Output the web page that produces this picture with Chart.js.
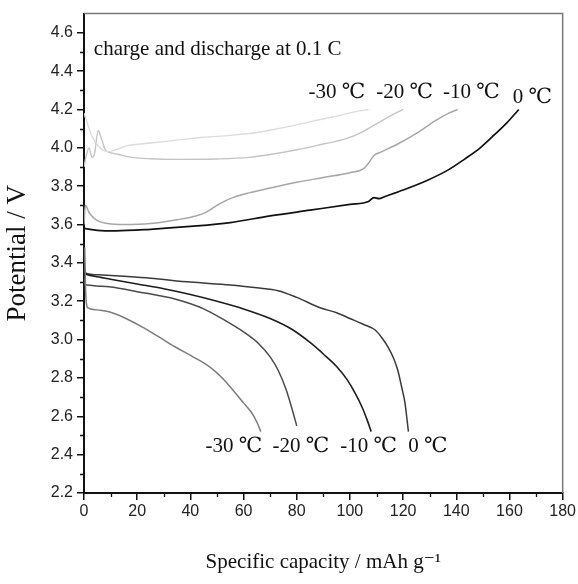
<!DOCTYPE html>
<html>
<head>
<meta charset="utf-8">
<script src="https://cdn.jsdelivr.net/npm/chart.js@4.4.1/dist/chart.umd.min.js"></script>
<style>
  html, body { margin: 0; padding: 0; background: #fff; }
</style>
</head>
<body>
<canvas id="chart" width="578" height="584"></canvas>
<script>
/* ---- data ---- */
const xTicks = [0, 20, 40, 60, 80, 100, 120, 140, 160, 180];
const xMinor = [10, 30, 50, 70, 90, 110, 130, 150, 170];
const yTicks = [2.2, 2.4, 2.6, 2.8, 3.0, 3.2, 3.4, 3.6, 3.8, 4.0, 4.2, 4.4, 4.6];
const yMinor = [2.3, 2.5, 2.7, 2.9, 3.1, 3.3, 3.5, 3.7, 3.9, 4.1, 4.3, 4.5];

// charge curves
const chg0Cap = [0, 5, 12, 25, 40, 55, 70, 85, 100, 107, 109, 111, 113, 120, 129, 137, 143, 149, 154.5, 159, 163.5];
const chg0V   = [3.58, 3.57, 3.567, 3.575, 3.59, 3.61, 3.645, 3.675, 3.705, 3.72, 3.74, 3.735, 3.745, 3.78, 3.83, 3.885, 3.94, 4.0, 4.07, 4.13, 4.2];

const chg10Cap = [0, 0.5, 2, 5, 9, 15, 25, 35, 42, 46, 50, 55, 62, 70, 80, 90, 100, 105, 107, 109, 112, 118, 125, 132, 137, 140.5];
const chg10V   = [3.6, 3.7, 3.66, 3.62, 3.605, 3.6, 3.605, 3.625, 3.645, 3.665, 3.7, 3.735, 3.765, 3.79, 3.82, 3.845, 3.87, 3.89, 3.92, 3.96, 3.98, 4.02, 4.075, 4.14, 4.18, 4.2];

const chg20Cap = [0, 0.7, 1.9, 3, 4, 5.3, 6.5, 8, 10, 13, 18, 25, 35, 50, 62, 70, 80, 90, 98, 105, 110.6, 115, 120];
const chg20V   = [3.9, 3.95, 4.0, 3.95, 3.97, 4.09, 4.05, 3.99, 3.975, 3.965, 3.95, 3.943, 3.94, 3.942, 3.95, 3.965, 3.99, 4.02, 4.045, 4.085, 4.13, 4.165, 4.2];

const chg30Cap = [0, 1, 3, 6, 9, 12, 16, 25, 35, 45, 55, 65, 73, 80, 88, 95, 101, 107];
const chg30V   = [4.18, 4.14, 4.06, 4.0, 3.98, 3.99, 4.01, 4.025, 4.04, 4.055, 4.065, 4.08, 4.1, 4.12, 4.145, 4.165, 4.185, 4.2];

// discharge curves
const dis0Cap = [0, 0.3, 1, 3, 7, 15, 25, 40, 55, 65, 73, 80, 89, 95, 100, 105, 109.5, 112, 114.4, 116.5, 118, 119.5, 120.7, 121.5, 122];
const dis0V   = [3.47, 3.36, 3.345, 3.34, 3.337, 3.33, 3.32, 3.3, 3.285, 3.27, 3.255, 3.22, 3.165, 3.14, 3.11, 3.08, 3.05, 3.01, 2.96, 2.9, 2.84, 2.75, 2.67, 2.58, 2.52];

const dis10Cap = [0, 0.3, 1, 4, 10, 20, 30, 40, 50, 60, 70, 78, 85, 90, 95, 99, 102, 104.5, 106.5, 108];
const dis10V   = [3.4, 3.35, 3.34, 3.33, 3.315, 3.29, 3.265, 3.235, 3.2, 3.16, 3.11, 3.055, 2.985, 2.925, 2.86, 2.79, 2.72, 2.65, 2.58, 2.52];

const dis20Cap = [0, 0.3, 1, 5, 9.4, 20, 34.5, 45, 53, 60, 65.6, 70, 73, 76, 78, 80];
const dis20V   = [3.32, 3.29, 3.285, 3.28, 3.275, 3.25, 3.21, 3.16, 3.1, 3.04, 2.98, 2.91, 2.84, 2.74, 2.65, 2.55];

const dis30Cap = [0.3, 0.5, 1, 1.5, 5, 9.4, 15, 21.8, 28, 34.5, 41, 47, 52, 57, 60, 63, 65, 66.5];
const dis30V   = [3.48, 3.3, 3.18, 3.165, 3.155, 3.145, 3.115, 3.066, 3.015, 2.96, 2.91, 2.86, 2.8, 2.72, 2.67, 2.62, 2.57, 2.52];

/* ---- fonts / helpers ---- */
const SERIF = "'Liberation Serif', 'Times New Roman', 'DejaVu Serif', 'Noto Sans CJK SC', serif";
const SANS = "'Liberation Sans', Arial, sans-serif";

function pts(xs, ys) {
    return xs.map((x, i) => ({ x: x, y: ys[i] }));
}

function series(label, xs, ys, color, width) {
    return {
        label: label,
        data: pts(xs, ys),
        borderColor: color,
        borderWidth: width,
        pointRadius: 0,
        cubicInterpolationMode: "monotone",
        fill: false
    };
}

/* text drawn on the plot, anchored in data units */
const notes = [
    { text: "charge and discharge at 0.1 C", x: 3.7, y: 4.485 },
    { text: "-30 \u2103", x: 84.4, y: 4.26 },
    { text: "-20 \u2103", x: 109.9, y: 4.26 },
    { text: "-10 \u2103", x: 135, y: 4.26 },
    { text: "0 \u2103", x: 161.2, y: 4.235 },
    { text: "-30 \u2103", x: 45.7, y: 2.414 },
    { text: "-20 \u2103", x: 70.9, y: 2.414 },
    { text: "-10 \u2103", x: 96.4, y: 2.414 },
    { text: "0 \u2103", x: 121.9, y: 2.414 }
];

const extras = {
    id: "extras",
    afterDraw(chart) {
        const c = chart.ctx;
        const a = chart.chartArea;
        const xs = chart.scales.x;
        const ys = chart.scales.y;
        c.save();

        // top and right frame
        c.strokeStyle = "#777";
        c.lineWidth = 1.5;
        c.beginPath();
        c.moveTo(a.left, a.top);
        c.lineTo(a.right, a.top);
        c.lineTo(a.right, a.bottom);
        c.stroke();

        // minor ticks
        c.strokeStyle = "#111";
        c.lineWidth = 1.3;
        c.beginPath();
        xMinor.forEach(v => {
            const px = Math.round(xs.getPixelForValue(v)) + 0.5;
            c.moveTo(px, a.bottom);
            c.lineTo(px, a.bottom + 4);
        });
        yMinor.forEach(v => {
            const py = Math.round(ys.getPixelForValue(v)) + 0.5;
            c.moveTo(a.left, py);
            c.lineTo(a.left - 4, py);
        });
        c.stroke();

        // annotations
        c.fillStyle = "#111";
        c.font = "21px " + SERIF;
        c.textBaseline = "alphabetic";
        c.textAlign = "left";
        notes.forEach(n => {
            c.fillText(n.text, xs.getPixelForValue(n.x), ys.getPixelForValue(n.y));
        });
        c.restore();
    }
};

new Chart(document.getElementById("chart"), {
    type: "line",
    data: {
        datasets: [
            series("-30 C charge", chg30Cap, chg30V, "#dcdcdc", 1.4),
            series("-20 C charge", chg20Cap, chg20V, "#c4c4c4", 1.4),
            series("-10 C charge", chg10Cap, chg10V, "#a6a6a6", 1.5),
            series("0 C charge", chg0Cap, chg0V, "#111111", 1.7),
            series("-30 C discharge", dis30Cap, dis30V, "#7c7c7c", 1.5),
            series("-20 C discharge", dis20Cap, dis20V, "#4a4a4a", 1.5),
            series("-10 C discharge", dis10Cap, dis10V, "#1c1c1c", 1.6),
            series("0 C discharge", dis0Cap, dis0V, "#3a3a3a", 1.5)
        ]
    },
    options: {
        responsive: false,
        animation: false,
        layout: { padding: { top: 13, right: 13, left: 0, bottom: 0 } },
        plugins: {
            legend: { display: false },
            tooltip: { enabled: false }
        },
        scales: {
            x: {
                type: "linear",
                min: 0,
                max: 180,
                afterFit: s => { s.height = 91; },
                afterBuildTicks: s => { s.ticks = xTicks.map(v => ({ value: v })); },
                ticks: {
                    color: "#222",
                    font: { family: SANS, size: 16 },
                    padding: 2,
                    maxRotation: 0,
                    autoSkip: false
                },
                grid: { drawOnChartArea: false, tickLength: 7, color: "#111", lineWidth: 1.5 },
                border: { color: "#111", width: 2 },
                title: {
                    display: true,
                    text: "Specific capacity / mAh g\u207B\u00B9",
                    color: "#111",
                    font: { family: SERIF, size: 21 },
                    padding: { top: 0, bottom: 9 }
                }
            },
            y: {
                type: "linear",
                min: 2.2,
                max: 4.7,
                afterFit: s => { s.width = 84; },
                afterBuildTicks: s => { s.ticks = yTicks.map(v => ({ value: v })); },
                ticks: {
                    color: "#222",
                    font: { family: SANS, size: 16 },
                    padding: 4,
                    callback: v => Number(v).toFixed(1)
                },
                grid: { drawOnChartArea: false, tickLength: 7, color: "#111", lineWidth: 1.5 },
                border: { color: "#111", width: 2 },
                title: {
                    display: true,
                    text: "Potential / V",
                    color: "#111",
                    font: { family: SERIF, size: 27 },
                    padding: { top: 2, bottom: 0 }
                }
            }
        }
    },
    plugins: [extras]
});
</script>
</body>
</html>
